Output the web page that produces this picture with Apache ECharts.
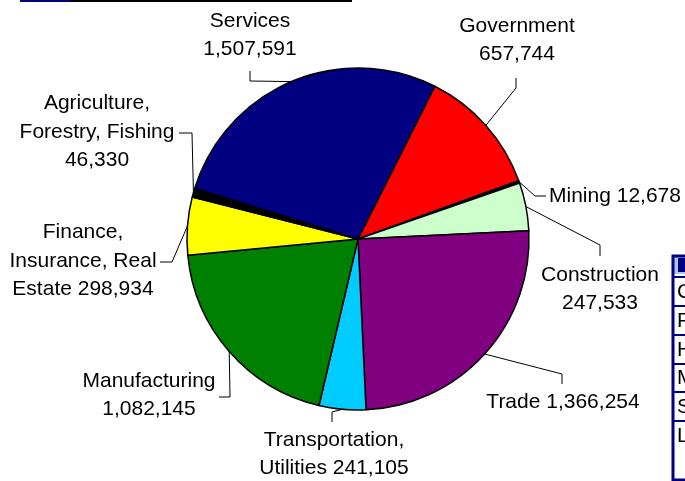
<!DOCTYPE html>
<html>
<head>
<meta charset="utf-8">
<script src="https://cdn.jsdelivr.net/npm/echarts@6/dist/echarts.min.js"></script>
<style>
html,body{margin:0;padding:0;background:#fff;}
#chart{width:685px;height:481px;}
</style>
</head>
<body>
<div id="chart"></div>
<script>
// ---- data ----
var categories = ["Government", "Mining", "Construction", "Trade", "Transportation, Utilities", "Manufacturing", "Finance, Insurance, Real Estate", "Agriculture, Forestry, Fishing", "Services"];
var values = [657744, 12678, 247533, 1366254, 241105, 1082145, 298934, 46330, 1507591];
// label text templates ({v} = formatted value)
var labelTemplates = ["Government\n{v}", "Mining {v}", "Construction\n{v}", "Trade {v}", "Transportation,\nUtilities {v}", "Manufacturing\n{v}", "Finance,\nInsurance, Real\nEstate {v}", "Agriculture,\nForestry, Fishing\n{v}", "Services\n{v}"];
var colors = ["#FF0000", "#000000", "#CCFFCC", "#800080", "#00CCFF", "#008000", "#FFFF00", "#000000", "#000080"];

// ---- label layout (positions of labels and leader-line ticks) ----
var labelLayouts = [
  {x: 517, y: 40,  elbow: [516, 88],  end: [516, 78]},
  {x: 615, y: 196, elbow: [535, 196], end: [546, 196]},
  {x: 600, y: 289, elbow: [600, 245], end: [600, 256]},
  {x: 563, y: 402, elbow: [562, 374], end: [562, 384]},
  {x: 334, y: 454, elbow: [332, 412], end: [332, 422]},
  {x: 149, y: 395, elbow: [230, 397], end: [219, 397]},
  {x: 83,  y: 261, elbow: [172, 262], end: [160, 262]},
  {x: 97,  y: 132, elbow: [192, 133], end: [179, 133]},
  {x: 250, y: 35,  elbow: [250, 81],  end: [250, 71]}
];

var CX = 358, CY = 239, R = 171, START = 63.3;
var total = values.reduce(function (a, b) { return a + b; }, 0);
function anchorFor(i) {
  var before = 0;
  for (var k = 0; k < i; k++) before += values[k];
  var mid = (before + values[i] / 2) / total * 360; // clockwise degrees from start
  var ang = (START - mid) * Math.PI / 180;
  return [CX + R * Math.cos(ang), CY - R * Math.sin(ang)];
}

var chart = echarts.init(document.getElementById('chart'), null, {renderer: 'canvas'});
var FONT = '"Liberation Sans", Arial, Helvetica, sans-serif';

var option = {
  animation: false,
  backgroundColor: '#ffffff',
  series: [{
    type: 'pie',
    center: [CX, CY],
    radius: R,
    startAngle: START,
    clockwise: true,
    avoidLabelOverlap: false,
    minAngle: 0,
    data: categories.map(function (c, i) {
      return {name: c, value: values[i], itemStyle: {color: colors[i]}};
    }),
    itemStyle: {borderColor: '#000000', borderWidth: 1.5},
    emphasis: {disabled: true},
    label: {
      show: true,
      position: 'outside',
      color: '#000000',
      fontFamily: FONT,
      fontSize: 21,
      lineHeight: 28.5,
      align: 'center',
      formatter: function (p) {
        return labelTemplates[p.dataIndex].replace('{v}', p.value.toLocaleString('en-US'));
      }
    },
    labelLine: {show: true, length: 10, length2: 10, lineStyle: {color: '#000000', width: 1}},
    labelLayout: function (params) {
      var i = params.dataIndex;
      var L = labelLayouts[i];
      var a = anchorFor(i);
      return {
        x: L.x, y: L.y, align: 'center', verticalAlign: 'middle',
        labelLinePoints: [a, L.elbow, L.end]
      };
    }
  }],
  graphic: [
    // cropped remnants of surrounding sheet
    {type: 'line', shape: {x1: 20, y1: 1, x2: 71, y2: 1}, style: {stroke: '#000080', lineWidth: 2}},
    {type: 'line', shape: {x1: 71, y1: 1, x2: 352, y2: 1}, style: {stroke: '#000000', lineWidth: 2}},
    {type: 'rect', shape: {x: 673, y: 256, width: 30, height: 18}, style: {fill: '#A6CAF0', stroke: null}},
    {type: 'rect', shape: {x: 678, y: 258, width: 10, height: 14}, style: {fill: '#000080', stroke: null}},
    {type: 'rect', shape: {x: 673, y: 256, width: 30, height: 224}, style: {fill: null, stroke: '#000080', lineWidth: 3}},
    {type: 'line', shape: {x1: 673, y1: 277, x2: 690, y2: 277}, style: {stroke: '#000080', lineWidth: 2}},
    {type: 'line', shape: {x1: 673, y1: 306, x2: 690, y2: 306}, style: {stroke: '#000080', lineWidth: 2}},
    {type: 'line', shape: {x1: 673, y1: 335, x2: 690, y2: 335}, style: {stroke: '#000080', lineWidth: 2}},
    {type: 'line', shape: {x1: 673, y1: 364, x2: 690, y2: 364}, style: {stroke: '#000080', lineWidth: 2}},
    {type: 'line', shape: {x1: 673, y1: 392, x2: 690, y2: 392}, style: {stroke: '#000080', lineWidth: 2}},
    {type: 'line', shape: {x1: 673, y1: 421, x2: 690, y2: 421}, style: {stroke: '#000080', lineWidth: 2}},
    {type: 'text', x: 677, y: 292, style: {text: 'G', font: '21px ' + FONT, fill: '#000', verticalAlign: 'middle'}},
    {type: 'text', x: 677, y: 321, style: {text: 'F', font: '21px ' + FONT, fill: '#000', verticalAlign: 'middle'}},
    {type: 'text', x: 677, y: 350, style: {text: 'H', font: '21px ' + FONT, fill: '#000', verticalAlign: 'middle'}},
    {type: 'text', x: 677, y: 378, style: {text: 'M', font: '21px ' + FONT, fill: '#000', verticalAlign: 'middle'}},
    {type: 'text', x: 677, y: 407, style: {text: 'S', font: '21px ' + FONT, fill: '#000', verticalAlign: 'middle'}},
    {type: 'text', x: 677, y: 436, style: {text: 'L', font: '21px ' + FONT, fill: '#000', verticalAlign: 'middle'}}
  ]
};
chart.setOption(option);
</script>
</body>
</html>
